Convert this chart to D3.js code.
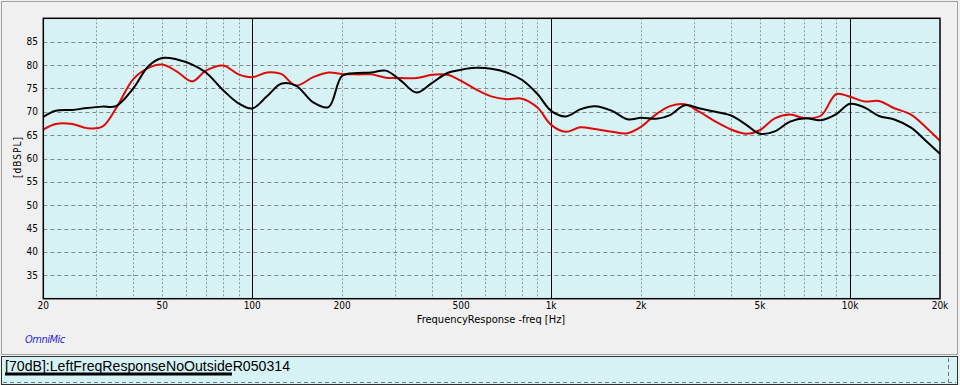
<!DOCTYPE html>
<html>
<head>
<meta charset="utf-8">
<script src="https://cdn.jsdelivr.net/npm/d3@7"></script>
<style>
  body { margin: 0; background: #f0f0f0; }
  svg { display: block; }
  .tick-label { font-family: "Liberation Sans Narrow", "DejaVu Sans Condensed", sans-serif; font-size: 10px; fill: #000; }
</style>
</head>
<body>
<div id="chart"></div>
<script>

// data ====================

var freqs = [20, 22, 25, 28, 31.5, 35, 40, 45, 50, 56, 63, 70, 80, 90, 100, 112, 125, 140, 160, 180,
  200, 225, 250, 280, 315, 355, 400, 450, 500, 560, 630, 710, 800, 900, 1000, 1120, 1250, 1400, 1600, 1800,
  2000, 2250, 2500, 2800, 3150, 3550, 4000, 4500, 5000, 5600, 6300, 7100, 8000, 9000, 10000, 11200, 12500,
  14000, 16000, 18000, 20000];

var blackSpl = [68.9, 70.2, 70.4, 70.8, 71.1, 71.2, 75.0, 79.8, 81.5, 81.2, 80.1, 78.4, 74.6, 71.8, 70.7, 73.3, 76.0, 75.6, 72.0, 71.0,
  77.7, 78.3, 78.4, 78.8, 76.6, 74.1, 76.2, 78.3, 79.0, 79.4, 79.2, 78.4, 76.8, 73.8, 70.2, 69.0, 70.5, 71.2, 70.2, 68.4,
  68.7, 68.5, 69.3, 71.4, 70.7, 70.0, 69.2, 67.2, 65.3, 65.8, 67.9, 68.6, 68.2, 69.5, 71.7, 70.9, 69.1,
  68.4, 66.6, 63.7, 61.0];

var redSpl = [66.2, 67.4, 67.4, 66.5, 66.8, 70.7, 77.0, 79.4, 80.1, 78.6, 76.5, 78.8, 79.9, 78.0, 77.4, 78.4, 78.1, 75.6, 77.4, 78.4,
  78.1, 78.0, 78.0, 77.3, 77.2, 77.2, 77.9, 77.9, 76.6, 74.8, 73.3, 72.7, 72.8, 70.9, 67.2, 65.7, 66.7, 66.3, 65.7, 65.4,
  66.8, 69.5, 71.2, 71.6, 69.9, 67.9, 66.2, 65.3, 66.1, 68.6, 69.4, 68.6, 69.2, 73.8, 73.2, 72.2, 72.3,
  70.8, 69.4, 66.6, 63.8];

var xTicks = [20, 50, 100, 200, 500, 1000, 2000, 5000, 10000, 20000];
var xTickLabels = ["20", "50", "100", "200", "500", "1k", "2k", "5k", "10k", "20k"];
var yTicks = [35, 40, 45, 50, 55, 60, 65, 70, 75, 80, 85];
var majorFreqs = [100, 1000, 10000];

var legendText = "[70dB]:LeftFreqResponseNoOutsideR050314";

// setup ====================

var width = 960;
var height = 385;

var svg = d3.select('#chart')
  .append('svg')
  .attr('width', width)
  .attr('height', height);

var x = d3.scaleLog()
  .domain([20, 20000])
  .range([43.3, 940]);

var y = d3.scaleLinear()
  .domain([30, 90])
  .range([298.7, 18.3]);

// outer panel
svg.append('rect')
  .attr('x', 1.5).attr('y', 1.5)
  .attr('width', 956).attr('height', 353)
  .style('fill', '#f0f0f0')
  .style('stroke', '#a0a0a0');

// plot background
svg.append('rect')
  .attr('x', x(20)).attr('y', y(90))
  .attr('width', x(20000) - x(20)).attr('height', y(30) - y(90))
  .style('fill', '#d7f2f4');

// minor vertical grid (every 1-9 of each decade)
var minor = [];
[10, 100, 1000, 10000].forEach(function(d) {
  for (var i = 1; i < 10; i++) {
    var f = d * i;
    if (f > 20 && f < 20000 && majorFreqs.indexOf(f) < 0) minor.push(f);
  }
});

svg.selectAll('.vgrid')
  .data(minor)
  .enter().append('line')
  .attr('class', 'vgrid')
  .attr('x1', function(d) { return Math.round(x(d)) + 0.5; })
  .attr('x2', function(d) { return Math.round(x(d)) + 0.5; })
  .attr('y1', y(90)).attr('y2', y(30))
  .style('stroke', '#8c9c9e')
  .style('stroke-dasharray', '2,2');

svg.selectAll('.hgrid')
  .data(yTicks)
  .enter().append('line')
  .attr('class', 'hgrid')
  .attr('x1', x(20)).attr('x2', x(20000))
  .attr('y1', function(d) { return Math.round(y(d)) + 0.5; })
  .attr('y2', function(d) { return Math.round(y(d)) + 0.5; })
  .style('stroke', '#7c8c8e')
  .style('stroke-dasharray', '4,3');

svg.selectAll('.major')
  .data(majorFreqs)
  .enter().append('line')
  .attr('class', 'major')
  .attr('x1', function(d) { return Math.round(x(d)) + 0.5; })
  .attr('x2', function(d) { return Math.round(x(d)) + 0.5; })
  .attr('y1', y(90)).attr('y2', y(30))
  .style('stroke', '#000');

// curves
var line = function(vals) {
  return d3.line()
    .x(function(d, i) { return x(freqs[i]); })
    .y(function(d) { return y(d); })
    .curve(d3.curveCatmullRom.alpha(0.5))(vals);
};

svg.append('path')
  .attr('d', line(redSpl))
  .style('fill', 'none')
  .style('stroke', '#dd0a0a')
  .style('stroke-width', 2);

svg.append('path')
  .attr('d', line(blackSpl))
  .style('fill', 'none')
  .style('stroke', '#000')
  .style('stroke-width', 2);

// plot frame
svg.append('rect')
  .attr('x', x(20)).attr('y', y(90))
  .attr('width', x(20000) - x(20)).attr('height', y(30) - y(90))
  .style('fill', 'none')
  .style('stroke', '#000')
  .style('stroke-width', 1.5);

// axis labels
svg.selectAll('.ylab')
  .data(yTicks)
  .enter().append('text')
  .attr('class', 'tick-label')
  .attr('x', 38)
  .attr('y', function(d) { return y(d) + 3.5; })
  .attr('text-anchor', 'end')
  .text(function(d) { return d; });

svg.selectAll('.xlab')
  .data(xTicks)
  .enter().append('text')
  .attr('class', 'tick-label')
  .attr('x', function(d) { return x(d); })
  .attr('y', 309)
  .attr('text-anchor', 'middle')
  .text(function(d, i) { return xTickLabels[i]; });

svg.append('text')
  .attr('class', 'tick-label')
  .attr('x', 491).attr('y', 323)
  .attr('text-anchor', 'middle')
  .style('font-size', '11px')
  .text('FrequencyResponse -freq [Hz]');

svg.append('text')
  .attr('class', 'tick-label')
  .attr('transform', 'translate(21,157) rotate(-90)')
  .attr('text-anchor', 'middle')
  .style('letter-spacing', '1px')
  .text('[dBSPL]');

svg.append('text')
  .attr('x', 25).attr('y', 343)
  .style('font-family', '"Liberation Sans Narrow", "DejaVu Sans Condensed", sans-serif')
  .style('font-size', '11px')
  .style('font-style', 'italic')
  .style('fill', '#2a2ad0')
  .style('letter-spacing', '-0.5px')
  .text('OmniMic');

// legend ====================

svg.append('rect')
  .attr('x', 1.5).attr('y', 356.5)
  .attr('width', 956).attr('height', 28)
  .style('fill', '#d7f2f4')
  .style('stroke', '#303030');

svg.append('line')
  .attr('x1', 3).attr('x2', 956)
  .attr('y1', 382.5).attr('y2', 382.5)
  .style('stroke', '#6c7c7e')
  .style('stroke-dasharray', '4,3');

svg.append('line')
  .attr('x1', 948.5).attr('x2', 948.5)
  .attr('y1', 358).attr('y2', 384)
  .style('stroke', '#6c7c7e')
  .style('stroke-dasharray', '4,3');

svg.append('text')
  .attr('x', 5).attr('y', 371)
  .attr('textLength', 285)
  .attr('lengthAdjust', 'spacingAndGlyphs')
  .style('font-family', '"Liberation Sans", Arial, sans-serif')
  .style('font-size', '14px')
  .text(legendText);

svg.append('line')
  .attr('x1', 5).attr('x2', 232)
  .attr('y1', 374).attr('y2', 374)
  .style('stroke', '#000')
  .style('stroke-width', 3);

</script>
</body>
</html>
